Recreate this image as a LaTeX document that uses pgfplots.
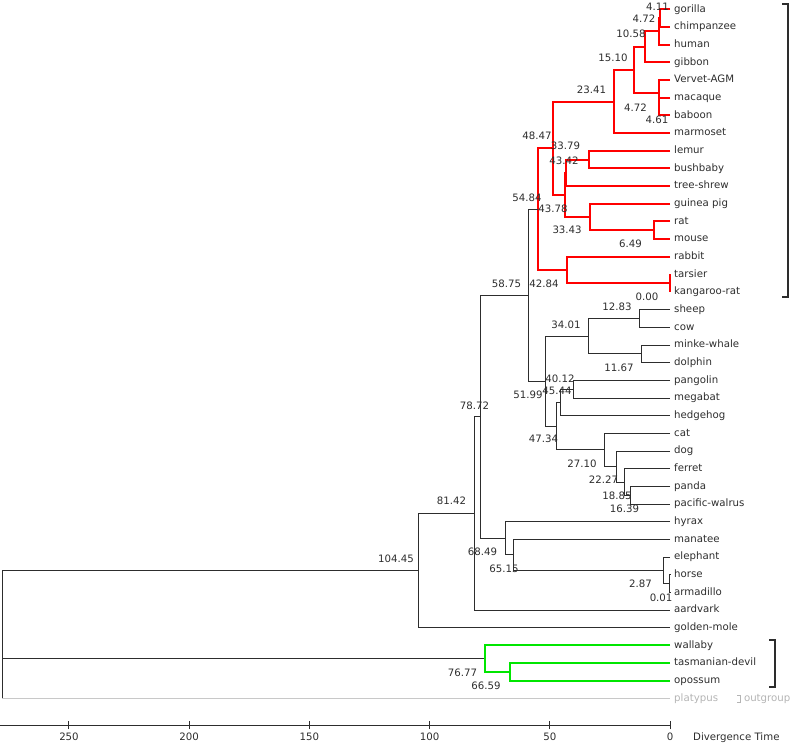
\documentclass[border=0pt]{standalone}
\usepackage{pgfplots}
\pgfplotsset{compat=1.18}
\usepackage{fontspec}
\setmainfont{DejaVu Sans}
\newcommand\f{\fontsize{10.2pt}{12pt}\selectfont}
\definecolor{tr}{RGB}{255,0,0}
\definecolor{tg}{RGB}{0,230,0}
\definecolor{tk}{RGB}{45,45,45}
\definecolor{tp}{RGB}{200,200,200}
\definecolor{tpt}{RGB}{180,180,180}
\tikzset{
  blk/.style={draw=tk, line width=1pt, mark=none},
  rd/.style={draw=tr, line width=2pt, mark=none},
  gn/.style={draw=tg, line width=2pt, mark=none},
  leaf/.style={anchor=base west, inner sep=0pt, xshift=4pt, yshift=-2.8pt, font=\f, text=tk},
  lab/.style={anchor=center, inner sep=0pt, font=\f, text=tk},
}
\begin{document}
\begin{tikzpicture}
\begin{axis}[
  scale only axis, width=670pt, height=725pt,
  xmin=0, xmax=278.7, ymin=-0.526, ymax=40.5,
  x dir=reverse, y dir=reverse,
  axis x line=bottom, axis y line=none,
  x axis line style={-, draw=tk, line width=1pt},
  xtick={0,50,100,150,200,250}, xtick align=center, major tick length=8pt,
  tick style={draw=tk, line width=1pt},
  xticklabel style={font=\f, text=tk, inner sep=0pt, yshift=-4pt},
  /pgf/number format/assume math mode=true,
  clip=false, enlargelimits=false,
]
% ---- red clade
\addplot[rd] coordinates {(0,0) (4.11,0) (4.11,1) (0,1)};
\addplot[rd] coordinates {(4.11,0.5) (4.72,0.5) (4.72,2) (0,2)};
\addplot[rd] coordinates {(4.72,1.25) (10.58,1.25) (10.58,3) (0,3)};
\addplot[rd] coordinates {(0,5) (4.61,5) (4.61,6) (0,6)};
\addplot[rd] coordinates {(0,4) (4.72,4) (4.72,5.5) (4.61,5.5)};
\addplot[rd] coordinates {(10.58,2.125) (15.10,2.125) (15.10,4.75) (4.72,4.75)};
\addplot[rd] coordinates {(15.10,3.4375) (23.41,3.4375) (23.41,7) (0,7)};
\addplot[rd] coordinates {(0,8) (33.79,8) (33.79,9) (0,9)};
\addplot[rd] coordinates {(33.79,8.5) (43.42,8.5) (43.42,10) (0,10)};
\addplot[rd] coordinates {(0,12) (6.49,12) (6.49,13) (0,13)};
\addplot[rd] coordinates {(0,11) (33.43,11) (33.43,12.5) (6.49,12.5)};
\addplot[rd] coordinates {(43.42,9.25) (43.78,9.25) (43.78,11.75) (33.43,11.75)};
\addplot[rd] coordinates {(23.41,5.21875) (48.47,5.21875) (48.47,10.5) (43.78,10.5)};
\addplot[rd] coordinates {(0,15) (0,16)};
\addplot[rd] coordinates {(0,14) (42.84,14) (42.84,15.5) (0,15.5)};
\addplot[rd] coordinates {(48.47,7.859375) (54.84,7.859375) (54.84,14.75) (42.84,14.75)};
% ---- black clades
\addplot[blk] coordinates {(54.84,11.3047) (58.75,11.3047) (58.75,21.0469) (51.99,21.0469)};
\addplot[blk] coordinates {(0,17) (12.83,17) (12.83,18) (0,18)};
\addplot[blk] coordinates {(0,19) (11.67,19) (11.67,20) (0,20)};
\addplot[blk] coordinates {(12.83,17.5) (34.01,17.5) (34.01,19.5) (11.67,19.5)};
\addplot[blk] coordinates {(0,21) (40.12,21) (40.12,22) (0,22)};
\addplot[blk] coordinates {(40.12,21.5) (45.44,21.5) (45.44,23) (0,23)};
\addplot[blk] coordinates {(0,27) (16.39,27) (16.39,28) (0,28)};
\addplot[blk] coordinates {(0,26) (18.85,26) (18.85,27.5) (16.39,27.5)};
\addplot[blk] coordinates {(0,25) (22.27,25) (22.27,26.75) (18.85,26.75)};
\addplot[blk] coordinates {(0,24) (27.10,24) (27.10,25.875) (22.27,25.875)};
\addplot[blk] coordinates {(45.44,22.25) (47.34,22.25) (47.34,24.9375) (27.10,24.9375)};
\addplot[blk] coordinates {(34.01,18.5) (51.99,18.5) (51.99,23.59375) (47.34,23.59375)};
\addplot[blk] coordinates {(0,32) (0.01,32) (0.01,33) (0,33)};
\addplot[blk] coordinates {(0,31) (2.87,31) (2.87,32.5) (0.01,32.5)};
\addplot[blk] coordinates {(0,30) (65.15,30) (65.15,31.75) (2.87,31.75)};
\addplot[blk] coordinates {(0,29) (68.49,29) (68.49,30.875) (65.15,30.875)};
\addplot[blk] coordinates {(58.75,16.1758) (78.72,16.1758) (78.72,29.9375) (68.49,29.9375)};
\addplot[blk] coordinates {(78.72,23.0566) (81.42,23.0566) (81.42,34) (0,34)};
\addplot[blk] coordinates {(81.42,28.5283) (104.45,28.5283) (104.45,35) (0,35)};
\addplot[blk] coordinates {(104.45,31.7642) (277.8,31.7642) (277.8,39)};
\addplot[blk] coordinates {(277.8,36.75) (76.77,36.75)};
\addplot[draw=tp, line width=1.3pt, mark=none] coordinates {(277.8,39) (0,39)};
% ---- green clade
\addplot[gn] coordinates {(0,37) (66.59,37) (66.59,38) (0,38)};
\addplot[gn] coordinates {(0,36) (76.77,36) (76.77,37.5) (66.59,37.5)};
% ---- leaf names
\node[leaf] at (axis cs:0,0) {gorilla};
\node[leaf] at (axis cs:0,1) {chimpanzee};
\node[leaf] at (axis cs:0,2) {human};
\node[leaf] at (axis cs:0,3) {gibbon};
\node[leaf] at (axis cs:0,4) {Vervet-AGM};
\node[leaf] at (axis cs:0,5) {macaque};
\node[leaf] at (axis cs:0,6) {baboon};
\node[leaf] at (axis cs:0,7) {marmoset};
\node[leaf] at (axis cs:0,8) {lemur};
\node[leaf] at (axis cs:0,9) {bushbaby};
\node[leaf] at (axis cs:0,10) {tree-shrew};
\node[leaf] at (axis cs:0,11) {guinea pig};
\node[leaf] at (axis cs:0,12) {rat};
\node[leaf] at (axis cs:0,13) {mouse};
\node[leaf] at (axis cs:0,14) {rabbit};
\node[leaf] at (axis cs:0,15) {tarsier};
\node[leaf] at (axis cs:0,16) {kangaroo-rat};
\node[leaf] at (axis cs:0,17) {sheep};
\node[leaf] at (axis cs:0,18) {cow};
\node[leaf] at (axis cs:0,19) {minke-whale};
\node[leaf] at (axis cs:0,20) {dolphin};
\node[leaf] at (axis cs:0,21) {pangolin};
\node[leaf] at (axis cs:0,22) {megabat};
\node[leaf] at (axis cs:0,23) {hedgehog};
\node[leaf] at (axis cs:0,24) {cat};
\node[leaf] at (axis cs:0,25) {dog};
\node[leaf] at (axis cs:0,26) {ferret};
\node[leaf] at (axis cs:0,27) {panda};
\node[leaf] at (axis cs:0,28) {pacific-walrus};
\node[leaf] at (axis cs:0,29) {hyrax};
\node[leaf] at (axis cs:0,30) {manatee};
\node[leaf] at (axis cs:0,31) {elephant};
\node[leaf] at (axis cs:0,32) {horse};
\node[leaf] at (axis cs:0,33) {armadillo};
\node[leaf] at (axis cs:0,34) {aardvark};
\node[leaf] at (axis cs:0,35) {golden-mole};
\node[leaf] at (axis cs:0,36) {wallaby};
\node[leaf] at (axis cs:0,37) {tasmanian-devil};
\node[leaf] at (axis cs:0,38) {opossum};
\node[leaf, text=tpt] at (axis cs:0,39) {platypus};
% ---- node ages
\node[lab] at (axis cs:5.2,-0.13) {4.11};
\node[lab] at (axis cs:10.8,0.55) {4.72};
\node[lab] at (axis cs:16.2,1.36) {10.58};
\node[lab] at (axis cs:23.7,2.72) {15.10};
\node[lab] at (axis cs:32.65,4.53) {23.41};
\node[lab] at (axis cs:14.35,5.55) {4.72};
\node[lab] at (axis cs:5.4,6.26) {4.61};
\node[lab] at (axis cs:55.3,7.17) {48.47};
\node[lab] at (axis cs:43.5,7.72) {33.79};
\node[lab] at (axis cs:44.1,8.57) {43.42};
\node[lab] at (axis cs:59.5,10.64) {54.84};
\node[lab] at (axis cs:48.7,11.30) {43.78};
\node[lab] at (axis cs:42.8,12.49) {33.43};
\node[lab] at (axis cs:16.4,13.28) {6.49};
\node[lab] at (axis cs:52.4,15.55) {42.84};
\node[lab] at (axis cs:68.0,15.55) {58.75};
\node[lab] at (axis cs:9.6,16.25) {0.00};
\node[lab] at (axis cs:22.05,16.83) {12.83};
\node[lab] at (axis cs:43.3,17.83) {34.01};
\node[lab] at (axis cs:21.2,20.28) {11.67};
\node[lab] at (axis cs:45.8,20.88) {40.12};
\node[lab] at (axis cs:47.0,21.58) {45.44};
\node[lab] at (axis cs:59.1,21.79) {51.99};
\node[lab] at (axis cs:81.3,22.45) {78.72};
\node[lab] at (axis cs:52.6,24.28) {47.34};
\node[lab] at (axis cs:36.6,25.69) {27.10};
\node[lab] at (axis cs:27.7,26.64) {22.27};
\node[lab] at (axis cs:22.05,27.53) {18.85};
\node[lab] at (axis cs:90.9,27.83) {81.42};
\node[lab] at (axis cs:18.9,28.28) {16.39};
\node[lab] at (axis cs:78.0,30.70) {68.49};
\node[lab] at (axis cs:114.0,31.11) {104.45};
\node[lab] at (axis cs:69.05,31.64) {65.15};
\node[lab] at (axis cs:12.3,32.52) {2.87};
\node[lab] at (axis cs:3.7,33.28) {0.01};
\node[lab] at (axis cs:86.3,37.52) {76.77};
\node[lab] at (axis cs:76.5,38.28) {66.59};
% ---- brackets
\draw[tk, line width=1.2pt] (axis cs:-46.6,-0.30) -- (axis cs:-49.08,-0.30) -- (axis cs:-49.08,16.28) -- (axis cs:-46.6,16.28);
\draw[tk, line width=1.2pt] (axis cs:-41.2,35.69) -- (axis cs:-43.7,35.69) -- (axis cs:-43.7,38.35) -- (axis cs:-41.2,38.35);
\draw[tpt, line width=1pt] (axis cs:-27.9,38.83) -- (axis cs:-29.5,38.83) -- (axis cs:-29.5,39.25) -- (axis cs:-27.9,39.25);
\node[leaf, text=tpt, xshift=-4pt] at (axis cs:-30.7,39) {outgroup};
\node[anchor=north west, inner sep=0pt, font=\f, text=tk, yshift=-8pt] at (axis cs:-9.57,40.5) {Divergence Time};
\coordinate (BBtl) at (axis cs:278.7,-0.526);
\coordinate (BBbr) at (axis cs:-50.33,41.64);
\end{axis}
\pgfresetboundingbox
\path[use as bounding box] (BBtl) rectangle (BBbr);
\end{tikzpicture}
\end{document}
